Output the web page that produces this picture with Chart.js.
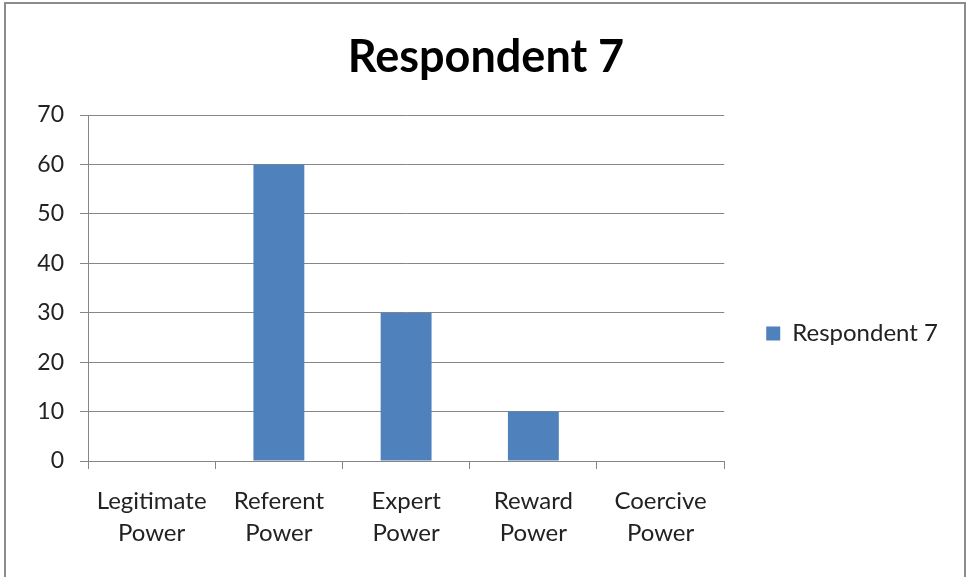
<!DOCTYPE html>
<html>
<head>
<meta charset="utf-8">
<script src="https://cdn.jsdelivr.net/npm/chart.js@4"></script>
<style>
  html, body { margin: 0; padding: 0; background: #fff; }
  #wrap { position: relative; width: 969px; height: 577px; }
  #frame { position: absolute; left: 4px; top: 2px; width: 962px; height: 590px; border: 2px solid #8c8c8c; box-sizing: border-box; pointer-events: none; }
  canvas { position: absolute; left: 0; top: 0; }
</style>
</head>
<body>
<div id="wrap">
  <canvas id="c" width="969" height="577"></canvas>
  <div id="frame"></div>
</div>
<script>
const categories = [["Legitimate", "Power"], ["Referent", "Power"], ["Expert", "Power"], ["Reward", "Power"], ["Coercive", "Power"]];
const seriesName = "Respondent 7";
const values = [0, 60, 30, 10, 0];
const yTicks = [0, 10, 20, 30, 40, 50, 60, 70];

const FONT = "Lato, 'Open Sans', sans-serif";
const gridColor = "#868686";

new Chart(document.getElementById("c"), {
  type: "bar",
  data: {
    labels: categories,
    datasets: [{
      label: seriesName,
      data: values,
      backgroundColor: "#4F81BD",
      borderWidth: 0,
      categoryPercentage: 1.0,
      barPercentage: 0.4
    }]
  },
  options: {
    responsive: false,
    animation: false,
    devicePixelRatio: 1,
    layout: { padding: { left: 24, right: 21, top: 0, bottom: 0 } },
    plugins: {
      title: {
        display: true,
        text: "Respondent 7",
        color: "#000",
        font: { family: FONT, size: 45, weight: "bold", lineHeight: 1.2 },
        padding: { top: 30, bottom: 31 }
      },
      legend: {
        display: true,
        position: "right",
        align: "center",
        title: { display: true, text: " ", font: { size: 10 }, padding: { top: 43, bottom: 35 } },
        labels: {
          color: "#222",
          font: { family: FONT, size: 24 },
          boxWidth: 14,
          boxHeight: 14,
          padding: 42
        }
      },
      tooltip: { enabled: false }
    },
    scales: {
      x: {
        offset: true,
        grid: { display: true, drawOnChartArea: false, offset: true, color: gridColor, tickLength: 8, lineWidth: 1 },
        border: { display: true, color: gridColor, width: 1 },
        ticks: { color: "#222", font: { family: FONT, size: 24, lineHeight: 1.3 }, padding: 17, maxRotation: 0, autoSkip: false },
        afterFit: (s) => { s.height = 116; }
      },
      y: {
        min: 0,
        max: 70,
        afterBuildTicks: (s) => { s.ticks = yTicks.map(v => ({ value: v })); },
        grid: { color: gridColor, tickLength: 8, lineWidth: 1 },
        border: { display: true, color: gridColor, width: 1 },
        ticks: { color: "#222", font: { family: FONT, size: 23 }, padding: 16 },
        afterFit: (s) => { s.width = 64; }
      }
    }
  }
});
</script>
</body>
</html>
